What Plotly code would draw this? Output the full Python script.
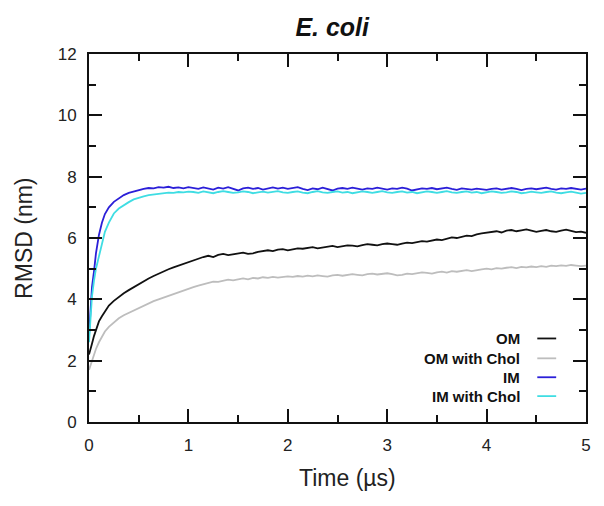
import plotly.graph_objects as go

time_us = [0, 0.01, 0.02, 0.03, 0.05, 0.07, 0.10, 0.13, 0.16, 0.20, 0.25, 0.30,
           0.35, 0.40, 0.45, 0.50, 0.55, 0.60, 0.65, 0.70, 0.75, 0.80, 0.85, 0.90, 0.95, 1.00,
           1.05, 1.10, 1.15, 1.20, 1.25, 1.30, 1.35, 1.40, 1.45, 1.50, 1.55, 1.60, 1.65, 1.70, 1.75, 1.80, 1.85, 1.90, 1.95, 2.00,
           2.05, 2.10, 2.15, 2.20, 2.25, 2.30, 2.35, 2.40, 2.45, 2.50, 2.55, 2.60, 2.65, 2.70, 2.75, 2.80, 2.85, 2.90, 2.95, 3.00,
           3.05, 3.10, 3.15, 3.20, 3.25, 3.30, 3.35, 3.40, 3.45, 3.50, 3.55, 3.60, 3.65, 3.70, 3.75, 3.80, 3.85, 3.90, 3.95, 4.00,
           4.05, 4.10, 4.15, 4.20, 4.25, 4.30, 4.35, 4.40, 4.45, 4.50, 4.55, 4.60, 4.65, 4.70, 4.75, 4.80, 4.85, 4.90, 4.95, 5.00]

im = [2.8, 3.5, 4.0, 4.4, 4.9, 5.5, 6.1, 6.5, 6.78, 7.0, 7.18, 7.3,
      7.4, 7.47, 7.52, 7.56, 7.6, 7.63, 7.62, 7.66, 7.64, 7.67, 7.63, 7.65, 7.62, 7.66,
      7.63, 7.6, 7.65, 7.62, 7.58, 7.64, 7.61, 7.66, 7.6, 7.55, 7.62, 7.64, 7.6, 7.63, 7.58, 7.62, 7.65, 7.61, 7.64, 7.6,
      7.62, 7.66, 7.6, 7.56, 7.62, 7.59, 7.64, 7.6, 7.55, 7.61, 7.63, 7.6, 7.64, 7.61, 7.58, 7.62, 7.6, 7.64, 7.61, 7.58,
      7.62, 7.6, 7.64, 7.61, 7.55, 7.58, 7.62, 7.6, 7.63, 7.59, 7.61, 7.64, 7.6, 7.57, 7.62, 7.6, 7.58, 7.61, 7.6, 7.57,
      7.6, 7.62, 7.58, 7.61, 7.63, 7.6, 7.56, 7.6, 7.62, 7.59, 7.61, 7.64, 7.6, 7.58, 7.62, 7.6, 7.63, 7.6, 7.58, 7.61]

im_chol = [2.6, 3.2, 3.7, 4.1, 4.6, 5.0, 5.4, 5.85, 6.2, 6.5, 6.8, 6.96,
           7.08, 7.17, 7.26, 7.32, 7.36, 7.4, 7.42, 7.44, 7.46, 7.48, 7.47, 7.5, 7.49, 7.51,
           7.5, 7.47, 7.52, 7.49, 7.46, 7.5, 7.53, 7.5, 7.47, 7.49, 7.52, 7.5, 7.46, 7.49, 7.51, 7.48, 7.5, 7.53, 7.49, 7.47,
           7.5, 7.52, 7.48, 7.46, 7.5, 7.53, 7.49, 7.47, 7.5, 7.52, 7.48, 7.5, 7.46, 7.49, 7.52, 7.5, 7.47, 7.5, 7.53, 7.49,
           7.47, 7.5, 7.52, 7.48, 7.5, 7.46, 7.49, 7.52, 7.5, 7.47, 7.5, 7.53, 7.49, 7.47, 7.5, 7.52, 7.48, 7.5, 7.46, 7.49,
           7.52, 7.5, 7.47, 7.49, 7.52, 7.5, 7.46, 7.48, 7.51, 7.49, 7.47, 7.5, 7.52, 7.48, 7.46, 7.49, 7.51, 7.48, 7.45, 7.47]

om = [2.2, 2.35, 2.45, 2.55, 2.8, 3.0, 3.28, 3.45, 3.6, 3.8, 3.95, 4.08,
      4.2, 4.3, 4.4, 4.5, 4.6, 4.68, 4.76, 4.84, 4.92, 4.98, 5.04, 5.1, 5.16, 5.22,
      5.28, 5.33, 5.38, 5.42, 5.38, 5.45, 5.48, 5.44, 5.47, 5.5, 5.52, 5.48, 5.5, 5.55, 5.58, 5.6, 5.57, 5.62, 5.64, 5.6,
      5.63, 5.66, 5.65, 5.68, 5.7, 5.66, 5.68, 5.72, 5.74, 5.7, 5.72, 5.76, 5.75, 5.73, 5.77, 5.8, 5.78, 5.76, 5.8, 5.82,
      5.8, 5.78, 5.82, 5.85, 5.83, 5.86, 5.9, 5.88, 5.92, 5.95, 5.93, 5.98, 6.02, 6.0, 6.05, 6.08, 6.06, 6.12, 6.15, 6.18,
      6.2, 6.22, 6.18, 6.24, 6.26, 6.22, 6.25, 6.28, 6.24, 6.2, 6.23, 6.26, 6.22, 6.2, 6.24, 6.27, 6.23, 6.19, 6.21, 6.17]

om_chol = [1.7, 1.8, 1.9, 2.0, 2.2, 2.38, 2.6, 2.8, 2.95, 3.1, 3.25, 3.38,
           3.48, 3.56, 3.63, 3.72, 3.8, 3.88, 3.94, 4.0, 4.06, 4.12, 4.18, 4.24, 4.3, 4.35,
           4.4, 4.45, 4.5, 4.54, 4.58, 4.57, 4.61, 4.64, 4.62, 4.66, 4.68, 4.65, 4.7, 4.68, 4.72, 4.7, 4.73, 4.71, 4.74, 4.75,
           4.73, 4.76, 4.74, 4.77, 4.75, 4.78, 4.76, 4.74, 4.78, 4.8, 4.77, 4.79, 4.82, 4.8, 4.78, 4.82, 4.84, 4.81, 4.83, 4.85,
           4.82, 4.78, 4.8, 4.84, 4.82, 4.85, 4.88, 4.86, 4.84, 4.88, 4.9, 4.87, 4.92, 4.9, 4.93, 4.95, 4.92, 4.96, 4.98, 5.0,
           4.98, 5.02, 5.0, 5.03, 5.05, 5.02, 5.06, 5.04, 5.07, 5.05, 5.08, 5.06, 5.1, 5.08, 5.11, 5.09, 5.12, 5.1, 5.08, 5.1]

series_names = ["OM", "OM with Chol", "IM", "IM with Chol"]
series_values = [om, om_chol, im, im_chol]
series_colors = ["#111111", "#bdbdbd", "#2b1fd8", "#3fdde3"]

x_ticks = [0, 1, 2, 3, 4, 5]
y_ticks = [0, 2, 4, 6, 8, 10, 12]

FONT = "Liberation Sans, Arial"

fig = go.Figure()
for name, vals, col in zip(series_names, series_values, series_colors):
    fig.add_trace(go.Scatter(x=time_us, y=vals, mode="lines", name=name,
                             line=dict(color=col, width=1.8), showlegend=False))

# Gnuplot-style legend: right-aligned text with line sample on the right
leg_y = [0.227, 0.173, 0.1216, 0.0703]
for name, col, yy in zip(series_names, series_colors, leg_y):
    fig.add_annotation(xref="paper", yref="paper", x=0.872, y=yy, text="<b>" + name + "</b>",
                       showarrow=False, xanchor="right", yanchor="middle",
                       font=dict(family=FONT, size=15, color="#111111"))
    fig.add_shape(type="line", xref="paper", yref="paper", x0=0.902, x1=0.940, y0=yy, y1=yy,
                  line=dict(color=col, width=1.8))

# Axis titles (offset as in the original figure)
fig.add_annotation(xref="paper", yref="paper", x=0.52, y=-0.151, text="Time (µs)",
                   showarrow=False, xanchor="center", yanchor="middle",
                   font=dict(family=FONT, size=23, color="#222222"))
fig.add_annotation(xref="paper", yref="paper", x=-0.131, y=0.5, text="RMSD (nm)", textangle=-90,
                   showarrow=False, xanchor="center", yanchor="middle",
                   font=dict(family=FONT, size=23, color="#222222"))

axis_common = dict(showline=True, linecolor="#111111", linewidth=2, mirror="allticks",
                   ticks="inside", ticklen=13, tickwidth=2, tickcolor="#111111",
                   showgrid=False, zeroline=False,
                   tickfont=dict(family=FONT, size=17, color="#222222"))

fig.update_xaxes(range=[0, 5], tickvals=x_ticks, ticklabelstandoff=7,
                 minor=dict(dtick=0.5, ticks="inside", ticklen=7, tickwidth=2, tickcolor="#111111", showgrid=False),
                 **axis_common)
fig.update_yaxes(range=[0, 12], tickvals=y_ticks, ticklabelstandoff=7,
                 minor=dict(dtick=1, ticks="inside", ticklen=7, tickwidth=2, tickcolor="#111111", showgrid=False),
                 **axis_common)

fig.update_layout(
    width=604, height=506,
    margin=dict(l=89, r=18, t=54, b=84),
    paper_bgcolor="white", plot_bgcolor="white",
    title=dict(text="<b><i>E. coli</i></b>", x=0.55, xanchor="center", y=0.947, yanchor="middle",
               font=dict(family=FONT, size=25, color="#111111")),
)

fig.write_html("out.html")
